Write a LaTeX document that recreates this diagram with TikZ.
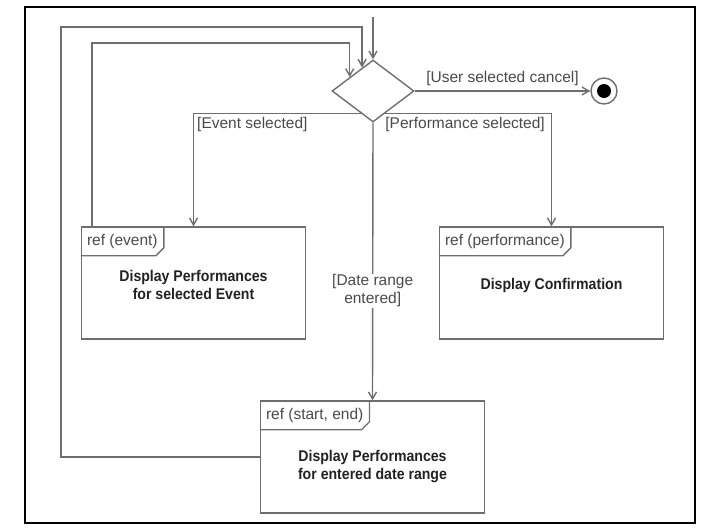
\documentclass[tikz,border=0pt]{standalone}
\usepackage{fontspec}
\setmainfont{Liberation Sans}[BoldFeatures={FakeStretch=0.91}]
\usetikzlibrary{shapes.geometric, arrows.meta, positioning, calc}
\definecolor{linegray}{HTML}{6E6E6E}
\definecolor{textgray}{HTML}{4A4A4A}
\definecolor{boldgray}{HTML}{222222}

\begin{document}
\begin{tikzpicture}[x=1pt, y=-1pt,
    flow/.style={-{Straight Barb[length=7pt, width=8pt]}, draw=linegray, line width=1.4pt},
    boxline/.style={draw=linegray, line width=1.4pt},
    refbox/.style={rectangle, boxline, minimum width=224pt, minimum height=112pt, inner sep=0pt},
    reftab/.style={anchor=north west, inner xsep=6pt, inner ysep=0pt, minimum height=29pt, text=textgray, font=\fontsize{15.5}{18}\selectfont},
    reftext/.style={align=center, text=boldgray, font=\fontsize{15.5}{18}\selectfont\bfseries},
    guard/.style={text=textgray, font=\fontsize{15.5}{18}\selectfont}
]
    \useasboundingbox (0,0) rectangle (720,531);
    \draw [black, line width=2pt] (25,7) rectangle (695,523);

    \node [diamond, boxline, minimum width=82pt, minimum height=62pt, inner sep=0pt] (dec) at (373,91) {};
    \node [circle, boxline, minimum size=26pt, inner sep=0pt] (final) at (604,91) {};
    \node [circle, fill=black, minimum size=14pt, inner sep=0pt] (final-dot) at (final) {};

    \node [refbox] (evt) at (193.5,283) {};
    \node [refbox] (perf) at (551.5,283) {};
    \node [refbox] (date) at (372.5,457) {};

    \node [reftab] (evt-tab) at (evt.north west) {ref (event)};
    \node [reftab] (perf-tab) at (perf.north west) {ref (performance)};
    \node [reftab] (date-tab) at (date.north west) {ref (start, end)};
    \draw [boxline] (evt-tab.north east) -- ([yshift=8pt]evt-tab.south east) -- ([xshift=-8pt]evt-tab.south east) -- (evt-tab.south west);
    \draw [boxline] (perf-tab.north east) -- ([yshift=8pt]perf-tab.south east) -- ([xshift=-8pt]perf-tab.south east) -- (perf-tab.south west);
    \draw [boxline] (date-tab.north east) -- ([yshift=8pt]date-tab.south east) -- ([xshift=-8pt]date-tab.south east) -- (date-tab.south west);

    \node [reftext] (evt-text) at ([yshift=-2pt]evt.center) {Display Performances\\for selected Event};
    \node [reftext] (perf-text) at ([yshift=-2pt]perf.center) {Display Confirmation};
    \node [reftext] (date-text) at ([yshift=-10pt]date.center) {Display Performances\\for entered date range};

    \coordinate (start) at (373,17);
    \coordinate (evt-loop) at (92,43);
    \coordinate (date-loop) at (61,27);

    \draw [flow] (start) -- (dec.north);
    \draw [flow] (dec.east) -- node [guard, above=1pt] (cancel-label) {[User selected cancel]} (final);
    \draw [flow] (dec.241.4) -| node [guard, pos=0.5, below right, inner xsep=3pt] (evt-label) {[Event selected]} (evt.north);
    \draw [flow] (dec.298.6) -| node [guard, pos=0.5, below left, inner xsep=6pt] (perf-label) {[Performance selected]} (perf.north);
    \draw [flow] (dec.south) -- node [guard, pos=0.606, fill=white, align=center, inner sep=1pt] (date-label) {[Date range\\entered]} (date.north);
    \draw [flow] (evt.north west -| evt-loop) -- (evt-loop) -| (dec.149.4);
    \draw [flow] (date.west) -| (date-loop) -| (dec.115.6);
\end{tikzpicture}
\end{document}
